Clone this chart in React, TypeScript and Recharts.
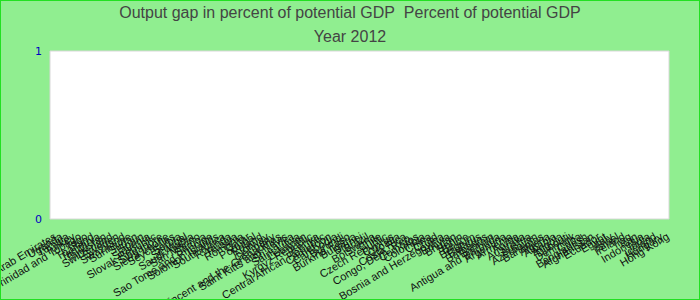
import { BarChart, Bar, XAxis, YAxis, ReferenceArea } from 'recharts';

// category order as it appears along the x axis
const countries = [
  'United Arab Emirates', 'Uganda', 'Tunisia', 'Turkey', 'Trinidad and Tobago', 'Togo', 'Thailand',
  'Tanzania', 'Tajikistan', 'Switzerland', 'Sweden', 'Swaziland', 'Suriname', 'Sudan', 'Spain',
  'Slovenia', 'Slovak Republic', 'Singapore', 'Sierra Leone', 'Seychelles', 'Serbia', 'Senegal',
  'Saudi Arabia', 'San Marino', 'Samoa', 'Sao Tome and Principe', 'Solomon Islands', 'South Africa',
  'Rwanda', 'Russia', 'Romania', 'Qatar', 'Portugal', 'Poland', 'Norway', 'Germany',
  'Saint Vincent and the Grenadines', 'Saint Kitts and Nevis', 'Sri Lanka', 'Saint Lucia', 'Lebanon',
  'Kyrgyz Republic', 'Kenya', 'Central African Republic', 'Cameroon', 'Cambodia', 'Burundi',
  'Burkina Faso', 'Bulgaria', 'Brunei', 'Brazil', 'Botswana', 'Chile', 'Czech Republic', 'Cyprus',
  'Croatia', 'Costa Rica', 'Congo, Dem. Rep.', 'Comoros', 'Colombia', 'China', 'Chad',
  'Bosnia and Herzegovina', 'Bolivia', 'Bhutan', 'Benin', 'Belize', 'Belgium', 'Belarus', 'Barbados',
  'Bahrain', 'Antigua and Barbuda', 'Argentina', 'Armenia', 'Aruba', 'Australia', 'Austria',
  'Azerbaijan', 'Bahamas', 'Algeria', 'Albania', 'Angola', 'Djibouti', 'Denmark', 'Cuba',
  'Bangladesh', 'Afghanistan', 'Ecuador', 'Egypt', 'Italy', 'Israel', 'Ireland', 'Iraq', 'Iran',
  'Indonesia', 'India', 'Iceland', 'Hungary', 'Hong Kong',
];

// no bars are visible in 2012: every output gap reads as 0
const outputGap = countries.map(() => 0);

const yTicks = [0, 1];

const data = countries.map((country, i) => ({ country, gap: outputGap[i] }));

export default function App() {
  return (
    <div style={{
      position: 'relative', width: 700, height: 300, boxSizing: 'border-box',
      background: '#90ee90', border: '1px solid #22e022', fontFamily: '"Liberation Sans", Arial, sans-serif',
    }}>
      <style>{'body{margin:0}'}</style>
      <div style={{ position: 'absolute', top: 3, left: 0, width: 698, textAlign: 'center', fontSize: 16, color: '#444' }}>
        Output gap in percent of potential GDP&nbsp; Percent of potential GDP
      </div>
      <div style={{ position: 'absolute', top: 27, left: 0, width: 698, textAlign: 'center', fontSize: 16, color: '#444' }}>
        Year 2012
      </div>
      <BarChart width={698} height={298} data={data} margin={{ top: 50, right: 30, left: 17, bottom: 0 }}>
        <ReferenceArea y1={0} y2={1} fill="#ffffff" fillOpacity={1} stroke="#d8d8d8" ifOverflow="extendDomain" />
        <XAxis
          dataKey="country"
          interval={0}
          height={80}
          axisLine={false}
          tickLine={false}
          tick={{ angle: -31, textAnchor: 'end', fontSize: 11, dy: 5, fill: '#111', fontFamily: '"Liberation Sans", Arial, sans-serif' }}
        />
        <YAxis
          domain={[0, 1]}
          ticks={yTicks}
          width={32}
          axisLine={false}
          tickLine={false}
          tick={{ fontSize: 11, fill: '#0000c0', fontFamily: '"DejaVu Sans", sans-serif' }}
        />
        <Bar dataKey="gap" fill="#4472c4" isAnimationActive={false} />
      </BarChart>
    </div>
  );
}
